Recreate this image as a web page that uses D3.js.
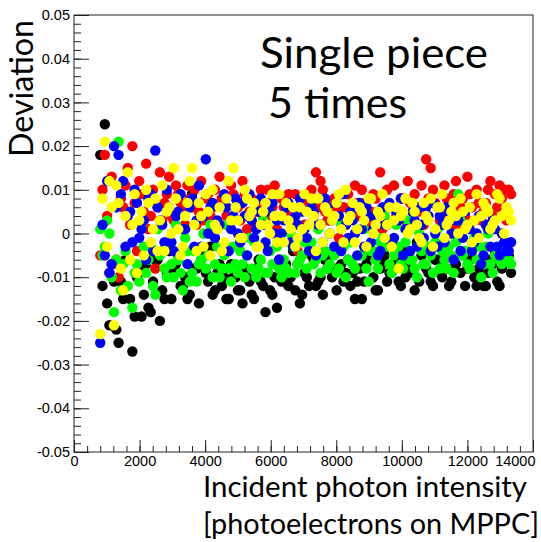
<!DOCTYPE html>
<html>
<head>
<meta charset="utf-8">
<script src="https://cdn.jsdelivr.net/npm/d3@7"></script>
<style>
  body { margin: 0; background: #fff; }
  svg { display: block; }
  .tick text { font-family: "Liberation Sans", Arial, sans-serif; font-size: 14.5px; fill: #000; }
  .tick line { stroke: #222; }
  .big { font-family: Lato, "Open Sans", sans-serif; fill: #000; }
</style>
</head>
<body>
<svg width="541" height="542"></svg>
<script>
// photon intensity [p.e.], first pass of the scan
const intensity = [800, 940, 1080, 1220, 1360, 1500, 1640, 1780, 1920, 2060,
  2200, 2340, 2480, 2620, 2760, 2900, 3040, 3180, 3320, 3460,
  3600, 3740, 3880, 4020, 4160, 4300, 4440, 4580, 4720, 4860,
  5000, 5140, 5280, 5420, 5560, 5700, 5840, 5980, 6120, 6260,
  6400, 6540, 6680, 6820, 6960, 7100, 7240, 7380, 7520, 7660,
  7800, 7940, 8080, 8220, 8360, 8500, 8640, 8780, 8920, 9060,
  9200, 9340, 9480, 9620, 9760, 9900, 10040, 10180, 10320, 10460,
  10600, 10740, 10880, 11020, 11160, 11300, 11440, 11580, 11720, 11860,
  12000, 12140, 12280, 12420, 12560, 12700, 12840, 12980, 13120, 13260];

// second pass, in between
const intensity2 = [870, 1010, 1150, 1290, 1430, 1570, 1710, 1850, 1990, 2130,
  2270, 2410, 2550, 2690, 2830, 2970, 3110, 3250, 3390, 3530,
  3670, 3810, 3950, 4090, 4230, 4370, 4510, 4650, 4790, 4930,
  5070, 5210, 5350, 5490, 5630, 5770, 5910, 6050, 6190, 6330,
  6470, 6610, 6750, 6890, 7030, 7170, 7310, 7450, 7590, 7730,
  7870, 8010, 8150, 8290, 8430, 8570, 8710, 8850, 8990, 9130,
  9270, 9410, 9550, 9690, 9830, 9970, 10110, 10250, 10390, 10530,
  10670, 10810, 10950, 11090, 11230, 11370, 11510, 11650, 11790, 11930,
  12070, 12210, 12350, 12490, 12630, 12770, 12910, 13050, 13190, 13330];

// deviation, 5 measurements (black, red, green, blue, yellow)
const devBlack = [0.018, 0.025, -0.021, -0.011, -0.025, -0.015, -0.006, -0.027, -0.010, -0.019,
  -0.007, -0.018, -0.006, -0.020, -0.015, -0.004, -0.009, -0.005, -0.012, -0.015,
  0.009, -0.008, -0.006, -0.009, -0.003, -0.013, -0.007, -0.010, -0.015, -0.010,
  -0.013, -0.016, -0.010, -0.014, -0.008, -0.011, -0.018, -0.013, -0.010, -0.006,
  -0.010, -0.012, -0.004, -0.007, -0.014, -0.010, -0.005, -0.012, -0.010, -0.006,
  -0.005, -0.008, -0.003, -0.011, -0.006, -0.009, -0.011, -0.015, -0.007, -0.004,
  -0.013, -0.008, -0.005, -0.009, -0.007, -0.011, -0.004, -0.006, -0.009, -0.002,
  -0.005, -0.008, -0.011, -0.006, -0.009, -0.003, -0.012, -0.008, 0.007, -0.005,
  -0.008, -0.002, -0.012, 0.004, -0.012, -0.006, -0.004, -0.012, -0.007, -0.005];
const devBlack2 = [-0.012, -0.016, -0.007, -0.022, -0.011, -0.006, -0.015, -0.019, -0.008, -0.014,
  -0.017, -0.011, -0.006, -0.013, -0.009, -0.015, -0.007, -0.012, -0.010, -0.014,
  -0.008, -0.016, -0.005, -0.011, -0.014, -0.009, -0.012, -0.015, -0.007, -0.010,
  -0.013, -0.008, -0.011, -0.015, -0.006, -0.012, -0.009, -0.014, -0.017, -0.011,
  -0.007, -0.010, -0.013, -0.016, -0.009, -0.012, -0.006, -0.011, -0.014, -0.008,
  -0.010, -0.013, -0.007, -0.009, -0.012, -0.015, -0.008, -0.011, -0.005, -0.010,
  -0.013, -0.007, -0.011, -0.009, -0.006, -0.012, -0.010, -0.008, -0.013, -0.011,
  -0.007, -0.009, -0.012, -0.006, -0.010, -0.008, -0.011, -0.007, -0.009, -0.012,
  -0.006, -0.010, -0.008, -0.012, -0.009, -0.007, -0.011, -0.008, -0.006, -0.009];

const devRed = [-0.005, 0.018, -0.009, -0.007, -0.010, 0.006, 0.015, 0.020, -0.004, 0.009,
  0.016, 0.004, -0.008, 0.014, 0.007, 0.013, 0.003, 0.009, 0.005, 0.011,
  0.006, 0.002, 0.012, 0.008, 0.004, 0.010, 0.013, 0.007, 0.003, 0.009,
  0.006, 0.012, 0.001, 0.008, 0.005, 0.010, 0.003, 0.007, 0.011, -0.002,
  0.006, 0.009, 0.004, -0.004, 0.007, 0.002, 0.010, 0.014, 0.012, 0.005,
  0.003, 0.008, -0.001, 0.006, 0.009, 0.004, 0.007, 0.010, 0.002, 0.005,
  0.008, 0.014, 0.003, 0.006, 0.011, 0.004, 0.008, 0.012, 0.002, 0.006,
  0.011, 0.017, 0.015, 0.007, 0.003, 0.011, 0.005, 0.009, 0.002, 0.008,
  0.013, 0.006, 0.010, 0.003, 0.007, 0.012, 0.009, 0.011, 0.010, 0.010];
const devRed2 = [0.010, 0.004, 0.013, -0.006, 0.008, 0.011, 0.002, 0.007, 0.012, 0.005,
  0.001, 0.010, 0.006, 0.003, 0.009, 0.004, 0.011, 0.007, 0.002, 0.008,
  0.010, 0.005, 0.003, 0.009, 0.006, 0.001, 0.008, 0.004, 0.011, 0.006,
  0.003, 0.009, 0.005, 0.002, 0.007, 0.004, 0.010, 0.006, 0.001, 0.008,
  0.005, 0.003, 0.009, 0.006, 0.002, 0.008, 0.004, 0.006, 0.010, 0.003,
  0.007, 0.005, 0.009, 0.002, 0.006, 0.011, 0.004, 0.007, 0.003, 0.009,
  0.005, 0.001, 0.010, 0.006, 0.004, 0.008, 0.003, 0.007, 0.009, 0.005,
  0.002, 0.008, 0.010, 0.006, 0.004, 0.008, 0.002, 0.012, 0.006, 0.004,
  0.009, 0.003, 0.007, 0.005, 0.010, 0.004, 0.006, 0.008, 0.003, 0.009];

const devGreen = [0.001, -0.003, 0.000, -0.018, 0.021, -0.007, -0.012, -0.017, -0.007, 0.002,
  -0.009, -0.003, -0.014, -0.005, -0.008, -0.002, -0.010, -0.006, -0.013, -0.004,
  -0.009, -0.011, -0.006, -0.008, 0.002, -0.007, -0.010, -0.005, -0.008, -0.003,
  -0.009, -0.007, -0.005, -0.008, -0.010, -0.006, -0.009, -0.004, -0.007, -0.008,
  -0.006, -0.009, -0.003, -0.007, -0.005, -0.008, -0.002, -0.006, -0.009, -0.004,
  -0.007, -0.005, -0.008, -0.003, -0.006, -0.007, 0.001, -0.005, -0.008, -0.004,
  -0.006, -0.002, 0.004, -0.007, -0.005, -0.003, -0.008, 0.003, -0.006, -0.010,
  -0.004, -0.007, -0.005, -0.002, -0.008, -0.006, -0.003, -0.009, 0.009, -0.005,
  -0.007, -0.004, -0.006, -0.010, -0.003, -0.007, -0.005, -0.006, -0.004, -0.006];
const devGreen2 = [-0.005, 0.003, -0.010, -0.006, -0.013, -0.004, 0.005, -0.009, -0.011, -0.003,
  -0.006, -0.012, 0.001, -0.004, -0.010, -0.007, 0.002, -0.009, -0.001, -0.011,
  -0.004, -0.007, 0.000, -0.005, -0.010, -0.003, -0.008, 0.002, -0.011, -0.007,
  -0.004, -0.010, -0.001, -0.002, -0.008, 0.003, -0.009, -0.007, -0.003, -0.010,
  -0.008, 0.000, -0.009, -0.006, -0.002, -0.003, -0.007, 0.001, -0.005, -0.008,
  -0.004, -0.009, 0.002, -0.010, -0.002, -0.008, -0.005, 0.001, -0.011, -0.004,
  -0.008, -0.001, -0.003, -0.009, 0.002, -0.007, -0.002, -0.006, -0.008, 0.000,
  -0.007, -0.003, -0.009, 0.001, -0.004, -0.008, -0.005, -0.002, 0.003, -0.004,
  -0.008, -0.001, -0.003, -0.007, 0.000, -0.009, -0.004, -0.007, -0.002, -0.007];

const devBlue = [-0.025, -0.005, -0.009, 0.020, 0.018, 0.012, 0.004, -0.002, 0.007, 0.001,
  -0.006, 0.009, 0.019, 0.003, -0.002, 0.006, -0.004, 0.005, 0.001, -0.007,
  0.008, 0.003, -0.003, 0.017, 0.006, -0.001, 0.002, 0.009, -0.004, 0.004,
  0.000, 0.007, -0.005, 0.003, 0.001, 0.008, -0.002, 0.005, 0.000, -0.006,
  0.003, 0.007, -0.003, 0.002, 0.005, -0.001, 0.006, -0.005, 0.002, 0.008,
  0.000, -0.003, 0.004, 0.009, -0.001, 0.003, -0.005, 0.001, 0.006, -0.002,
  0.004, -0.004, 0.002, 0.007, -0.001, 0.003, -0.005, 0.001, 0.005, -0.003,
  0.002, 0.006, -0.004, 0.000, 0.004, -0.002, 0.005, -0.006, 0.003, -0.001,
  0.002, -0.004, 0.000, -0.007, 0.002, -0.003, 0.001, -0.005, -0.002, -0.004];
const devBlue2 = [0.002, 0.012, -0.007, 0.006, 0.009, -0.003, 0.005, 0.010, -0.001, 0.003,
  0.008, -0.004, 0.006, 0.002, 0.010, -0.002, 0.004, 0.009, 0.001, 0.006,
  -0.003, 0.011, 0.004, 0.000, 0.007, 0.003, -0.004, 0.006, 0.001, 0.008,
  -0.002, 0.004, 0.009, -0.001, 0.005, 0.002, -0.004, 0.007, 0.003, 0.000,
  0.006, -0.002, 0.004, 0.008, 0.001, -0.004, 0.005, 0.002, -0.002, 0.006,
  0.003, 0.007, -0.004, 0.002, 0.005, 0.000, 0.007, -0.003, 0.004, 0.001,
  -0.005, 0.006, 0.002, -0.002, 0.005, 0.008, 0.001, -0.004, 0.003, 0.006,
  -0.001, 0.004, 0.007, -0.003, 0.002, 0.006, 0.000, 0.003, -0.004, 0.005,
  0.001, -0.002, 0.004, -0.005, 0.001, 0.003, -0.003, 0.000, -0.004, -0.002];

const devYellow = [-0.023, 0.021, 0.012, -0.021, 0.007, -0.013, 0.014, 0.002, -0.009, 0.005,
  0.010, -0.002, 0.008, 0.003, -0.004, 0.006, 0.015, 0.001, -0.003, 0.007,
  0.015, -0.004, 0.004, 0.009, -0.005, 0.002, 0.006, -0.002, 0.012, 0.015,
  0.003, -0.001, 0.008, 0.005, -0.003, 0.002, 0.007, 0.000, 0.004, 0.009,
  -0.002, 0.003, 0.006, -0.001, 0.001, 0.005, 0.008, -0.004, 0.002, 0.006,
  0.000, 0.004, 0.009, -0.002, 0.003, 0.007, 0.001, 0.005, -0.003, 0.008,
  0.002, 0.004, -0.001, 0.006, 0.003, -0.008, 0.005, 0.000, 0.007, 0.002,
  -0.002, 0.004, 0.008, 0.001, 0.006, -0.001, 0.003, 0.007, 0.000, 0.005,
  0.002, -0.002, 0.009, 0.004, 0.006, 0.001, 0.003, 0.008, 0.000, 0.005];
const devYellow2 = [0.008, -0.003, 0.006, 0.011, -0.008, 0.004, -0.006, 0.009, 0.003, -0.005,
  0.007, 0.001, -0.004, 0.011, 0.005, 0.000, 0.008, -0.005, 0.004, 0.012,
  0.002, 0.007, -0.003, 0.005, 0.010, 0.001, -0.004, 0.008, 0.003, 0.006,
  -0.001, 0.010, 0.004, 0.007, -0.003, 0.005, 0.002, 0.009, -0.002, 0.004,
  0.007, 0.001, -0.003, 0.006, 0.009, 0.002, 0.004, 0.008, -0.002, 0.005,
  0.003, 0.007, 0.001, 0.010, 0.004, -0.002, 0.006, 0.003, 0.008, 0.000,
  0.005, 0.009, 0.002, -0.003, 0.006, 0.004, 0.008, 0.001, 0.005, -0.001,
  0.007, 0.003, -0.003, 0.006, 0.009, 0.002, 0.005, 0.004, 0.008, 0.001,
  0.006, 0.003, -0.001, 0.007, 0.005, 0.002, 0.009, 0.004, 0.006, 0.003];

const runs = [[devBlack, devBlack2], [devRed, devRed2], [devGreen, devGreen2],
  [devBlue, devBlue2], [devYellow, devYellow2]];
const runColors = ["#000000", "#ff0000", "#00ff00", "#0000ff", "#ffff00"];

const xTicks = [0, 2000, 4000, 6000, 8000, 10000, 12000, 14000];
const xTickLabels = ["0", "2000", "4000", "6000", "8000", "10000", "12000", "14000"];
const yTicks = [-0.05, -0.04, -0.03, -0.02, -0.01, 0, 0.01, 0.02, 0.03, 0.04, 0.05];
const yTickLabels = ["-0.05", "-0.04", "-0.03", "-0.02", "-0.01", "0", "0.01", "0.02", "0.03", "0.04", "0.05"];

const svg = d3.select("svg");
const frame = {left: 74, right: 533, top: 15, bottom: 452};

const xScale = d3.scaleLinear().domain([0, 14000]).range([frame.left, frame.right]);
const yScale = d3.scaleLinear().domain([-0.05, 0.05]).range([frame.bottom, frame.top]);

// minor ticks (5 divisions between labels, ROOT style)
svg.append("g")
  .attr("transform", `translate(0, ${frame.bottom})`)
  .call(d3.axisBottom(xScale).tickValues(d3.range(0, 14001, 400)).tickSize(-6).tickFormat(""))
  .call(g => g.select(".domain").remove());
svg.append("g")
  .attr("transform", `translate(${frame.left}, 0)`)
  .call(d3.axisLeft(yScale).tickValues(d3.range(-50, 51, 2).map(d => d / 1000)).tickSize(-7).tickFormat(""))
  .call(g => g.select(".domain").remove());

// major ticks + labels
const xAxis = svg.append("g")
  .attr("transform", `translate(0, ${frame.bottom})`)
  .call(d3.axisBottom(xScale).tickValues(xTicks).tickSize(-12).tickPadding(4)
    .tickFormat((d, i) => xTickLabels[i]))
  .call(g => g.select(".domain").remove());
// last label is pulled inside the page, as ROOT does
xAxis.selectAll(".tick text")
  .filter(d => d === 14000)
  .attr("text-anchor", "end")
  .attr("x", 2);

svg.append("g")
  .attr("transform", `translate(${frame.left}, 0)`)
  .call(d3.axisLeft(yScale).tickValues(yTicks).tickSize(-15).tickPadding(4)
    .tickFormat((d, i) => yTickLabels[i]))
  .call(g => g.select(".domain").remove());

// markers
runs.forEach(function(passes, k) {
  const g = svg.append("g").attr("fill", runColors[k]);
  [intensity, intensity2].forEach(function(xs, p) {
    g.selectAll(null)
      .data(passes[p])
      .enter().append("circle")
        .attr("cx", (d, i) => xScale(xs[i]))
        .attr("cy", d => yScale(d))
        .attr("r", 5.2);
  });
});

// frame
svg.append("rect")
  .attr("x", frame.left)
  .attr("y", frame.top)
  .attr("width", frame.right - frame.left)
  .attr("height", frame.bottom - frame.top)
  .attr("fill", "none")
  .attr("stroke", "#222")
  .attr("stroke-width", 1);

// titles
svg.append("text")
  .attr("class", "big")
  .attr("transform", "translate(33, 157) rotate(-90)")
  .attr("font-size", 32)
  .attr("textLength", 137)
  .attr("lengthAdjust", "spacingAndGlyphs")
  .text("Deviation");

svg.append("text")
  .attr("class", "big")
  .attr("x", 260).attr("y", 68)
  .attr("font-size", 42)
  .attr("textLength", 228)
  .attr("lengthAdjust", "spacingAndGlyphs")
  .text("Single piece");

svg.append("text")
  .attr("class", "big")
  .attr("x", 268).attr("y", 118)
  .attr("font-size", 42)
  .attr("textLength", 139)
  .attr("lengthAdjust", "spacingAndGlyphs")
  .text("5 times");

svg.append("text")
  .attr("class", "big")
  .attr("x", 203).attr("y", 497)
  .attr("font-size", 28)
  .attr("textLength", 324)
  .attr("lengthAdjust", "spacingAndGlyphs")
  .text("Incident photon intensity");

svg.append("text")
  .attr("class", "big")
  .attr("x", 203).attr("y", 534)
  .attr("font-size", 28)
  .attr("textLength", 336)
  .attr("lengthAdjust", "spacingAndGlyphs")
  .text("[photoelectrons on MPPC]");
</script>
</body>
</html>
